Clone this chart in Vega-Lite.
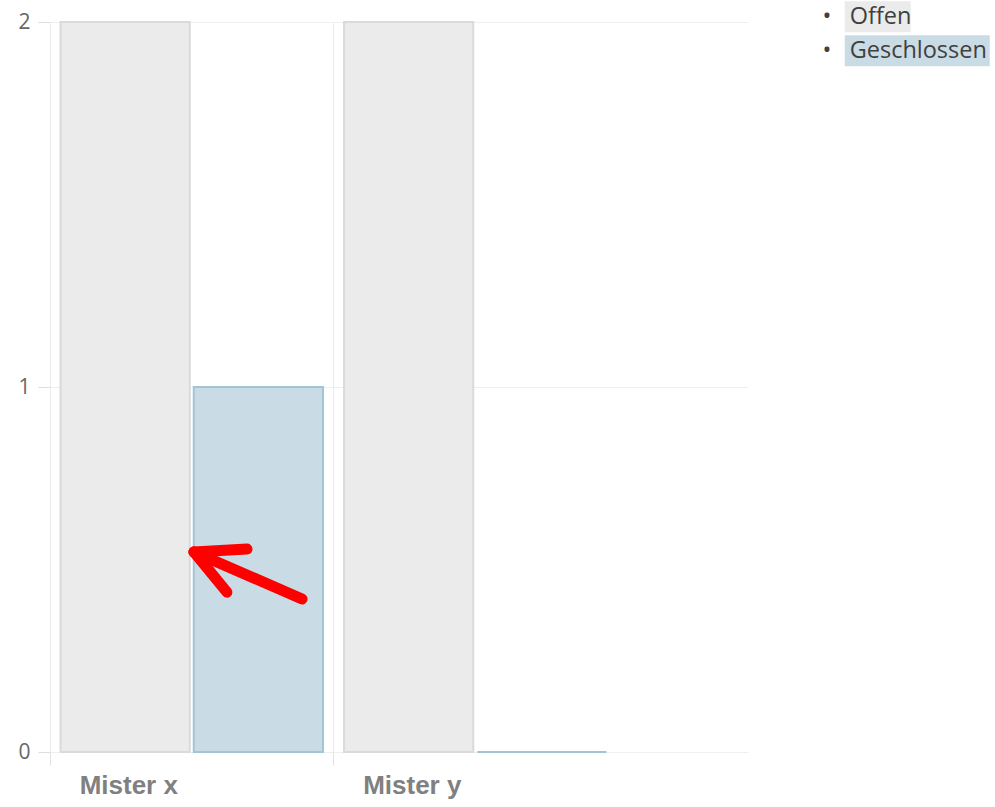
{
  "$schema": "https://vega.github.io/schema/vega-lite/v6.json",
  "width": 698,
  "height": 730,
  "autosize": "none",
  "padding": {"left": 50, "top": 22, "right": 247, "bottom": 55},
  "background": "white",
  "config": {"view": {"stroke": null}},
  "datasets": {
    "bars": [
      {"person": "Mister x", "status": "Offen", "value": 2},
      {"person": "Mister x", "status": "Geschlossen", "value": 1},
      {"person": "Mister y", "status": "Offen", "value": 2},
      {"person": "Mister y", "status": "Geschlossen", "value": 0}
    ],
    "arrow": [
      {"part": "shaft", "x": 0.508, "y": 0.548, "x2": 0.889, "y2": 0.419},
      {"part": "arm1", "x": 0.508, "y": 0.548, "x2": 0.695, "y2": 0.556},
      {"part": "arm2", "x": 0.508, "y": 0.548, "x2": 0.624, "y2": 0.438}
    ]
  },
  "layer": [
    {
      "data": {"name": "bars"},
      "mark": {"type": "bar", "strokeWidth": 2},
      "encoding": {
        "x": {
          "field": "person",
          "type": "nominal",
          "scale": {"paddingInner": 0, "paddingOuter": 0.231, "align": 0},
          "axis": {
            "title": null,
            "bandPosition": 0,
            "grid": true,
            "gridColor": "#ececec",
            "domain": false,
            "tickColor": "#e2e2e2",
            "tickSize": 13,
            "labelAngle": 0,
            "labelOffset": -63,
            "labelPadding": 7,
            "labelFont": "Liberation Sans",
            "labelFontSize": 26,
            "labelFontWeight": "bold",
            "labelColor": "#808080"
          }
        },
        "xOffset": {
          "field": "status",
          "type": "nominal",
          "sort": ["Offen", "Geschlossen"],
          "scale": {"paddingInner": 0.03, "paddingOuter": 0.079}
        },
        "y": {
          "field": "value",
          "type": "quantitative",
          "scale": {"domain": [0, 2], "nice": false},
          "axis": {
            "title": null,
            "values": [0, 1, 2],
            "format": ".0f",
            "grid": true,
            "gridColor": "#efefef",
            "domain": false,
            "tickColor": "#dddddd",
            "tickSize": 12,
            "labelPadding": 8,
            "labelFont": "Open Sans",
            "labelFontSize": 21,
            "labelColor": "#666666"
          }
        },
        "fill": {
          "field": "status",
          "type": "nominal",
          "scale": {"domain": ["Offen", "Geschlossen"], "range": ["#ebebeb", "#c9dce5"]},
          "legend": {
            "orient": "none",
            "legendX": 749,
            "legendY": -17,
            "title": null,
            "padding": 0,
            "symbolType": "square",
            "symbolSize": 100,
            "symbolStrokeWidth": 0,
            "labelFont": "Open Sans",
            "labelFontSize": 23.5,
            "labelColor": "#404040",
            "labelOffset": 0,
            "labelLimit": 300,
            "rowPadding": 2,
            "labelExpr": "'•\u00a0\u00a0\u00a0' + datum.label",
            "encode": {
              "symbols": {
                "update": {
                  "shape": {"signal": "datum.value === 'Offen' ? 'M6.8,-3.1H20V3.1H6.8Z' : 'M6.8,-3.1H35.8V3.1H6.8Z'"}
                }
              }
            }
          }
        },
        "stroke": {
          "field": "status",
          "type": "nominal",
          "scale": {"domain": ["Offen", "Geschlossen"], "range": ["#dadada", "#a2c5d5"]},
          "legend": null
        }
      }
    },
    {
      "data": {"name": "arrow"},
      "mark": {"type": "rule", "color": "#ff0000", "strokeWidth": 11, "strokeCap": "round"},
      "encoding": {
        "x": {"field": "x", "type": "quantitative", "scale": {"domain": [0, 2.462], "nice": false, "zero": false}, "axis": null},
        "x2": {"field": "x2"},
        "y": {"field": "y", "type": "quantitative"},
        "y2": {"field": "y2"}
      }
    }
  ],
  "resolve": {"scale": {"x": "independent"}}
}
